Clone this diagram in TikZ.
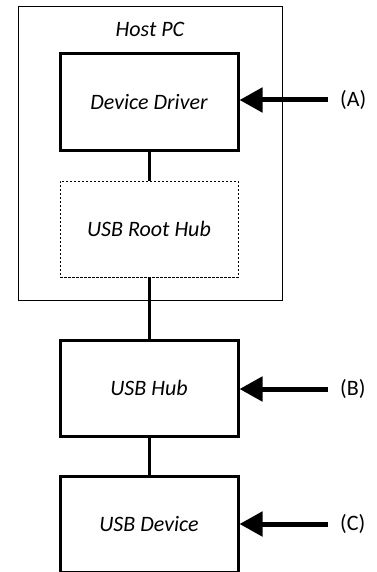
\documentclass[tikz,border=0pt]{standalone}
\usepackage{fontspec}
\setmainfont{Carlito}
\usetikzlibrary{arrows.meta}

\tikzset{
  block/.style={draw, line width=3bp, minimum width=178bp, minimum height=96bp,
    inner sep=0pt, font=\fontsize{22bp}{26bp}\selectfont\itshape},
  virtual/.style={draw, dashed, dash pattern=on 2.5bp off 1.5bp, line width=0.8bp,
    minimum width=178bp, minimum height=96bp, inner sep=0pt,
    font=\fontsize{22bp}{26bp}\selectfont\itshape},
  link/.style={line width=3bp},
  pointer/.style={line width=5bp, -{Triangle[length=23bp, width=24bp]}},
  tag/.style={anchor=west, inner sep=0pt, font=\fontsize{22bp}{26bp}\selectfont}
}

\begin{document}
\begin{tikzpicture}[x=1bp, y=-1bp]
  \useasboundingbox (0,0) rectangle (376,572);

  % Host PC frame
  \node[draw, line width=0.8bp, minimum width=264bp, minimum height=294bp, inner sep=0pt]
    (host) at (150,153) {};
  \node[font=\fontsize{22bp}{26bp}\selectfont\itshape] (hostlbl) at (150,29) {Host PC};

  % Stack of blocks
  \node[block] (driver) at (149,102) {Device Driver};
  \node[virtual] (roothub) at (149,229) {USB Root Hub};
  \node[block] (hub) at (149,388) {USB Hub};
  \node[block] (device) at (149,524) {USB Device};

  % Links between blocks
  \draw[link] (driver) -- (roothub);
  \draw[link] (roothub) -- (hub);
  \draw[link] (hub) -- (device);

  % Labels and arrows
  \node[tag] (lblA) at (340,100) {(A)};
  \node[tag] (lblB) at (340,389) {(B)};
  \node[tag] (lblC) at (340,524) {(C)};
  \draw[pointer] ([xshift=-12bp]lblA.west) -- (driver.east |- lblA.west);
  \draw[pointer] ([xshift=-12bp]lblB.west) -- (hub.east |- lblB.west);
  \draw[pointer] ([xshift=-12bp]lblC.west) -- (device.east |- lblC.west);
\end{tikzpicture}
\end{document}
